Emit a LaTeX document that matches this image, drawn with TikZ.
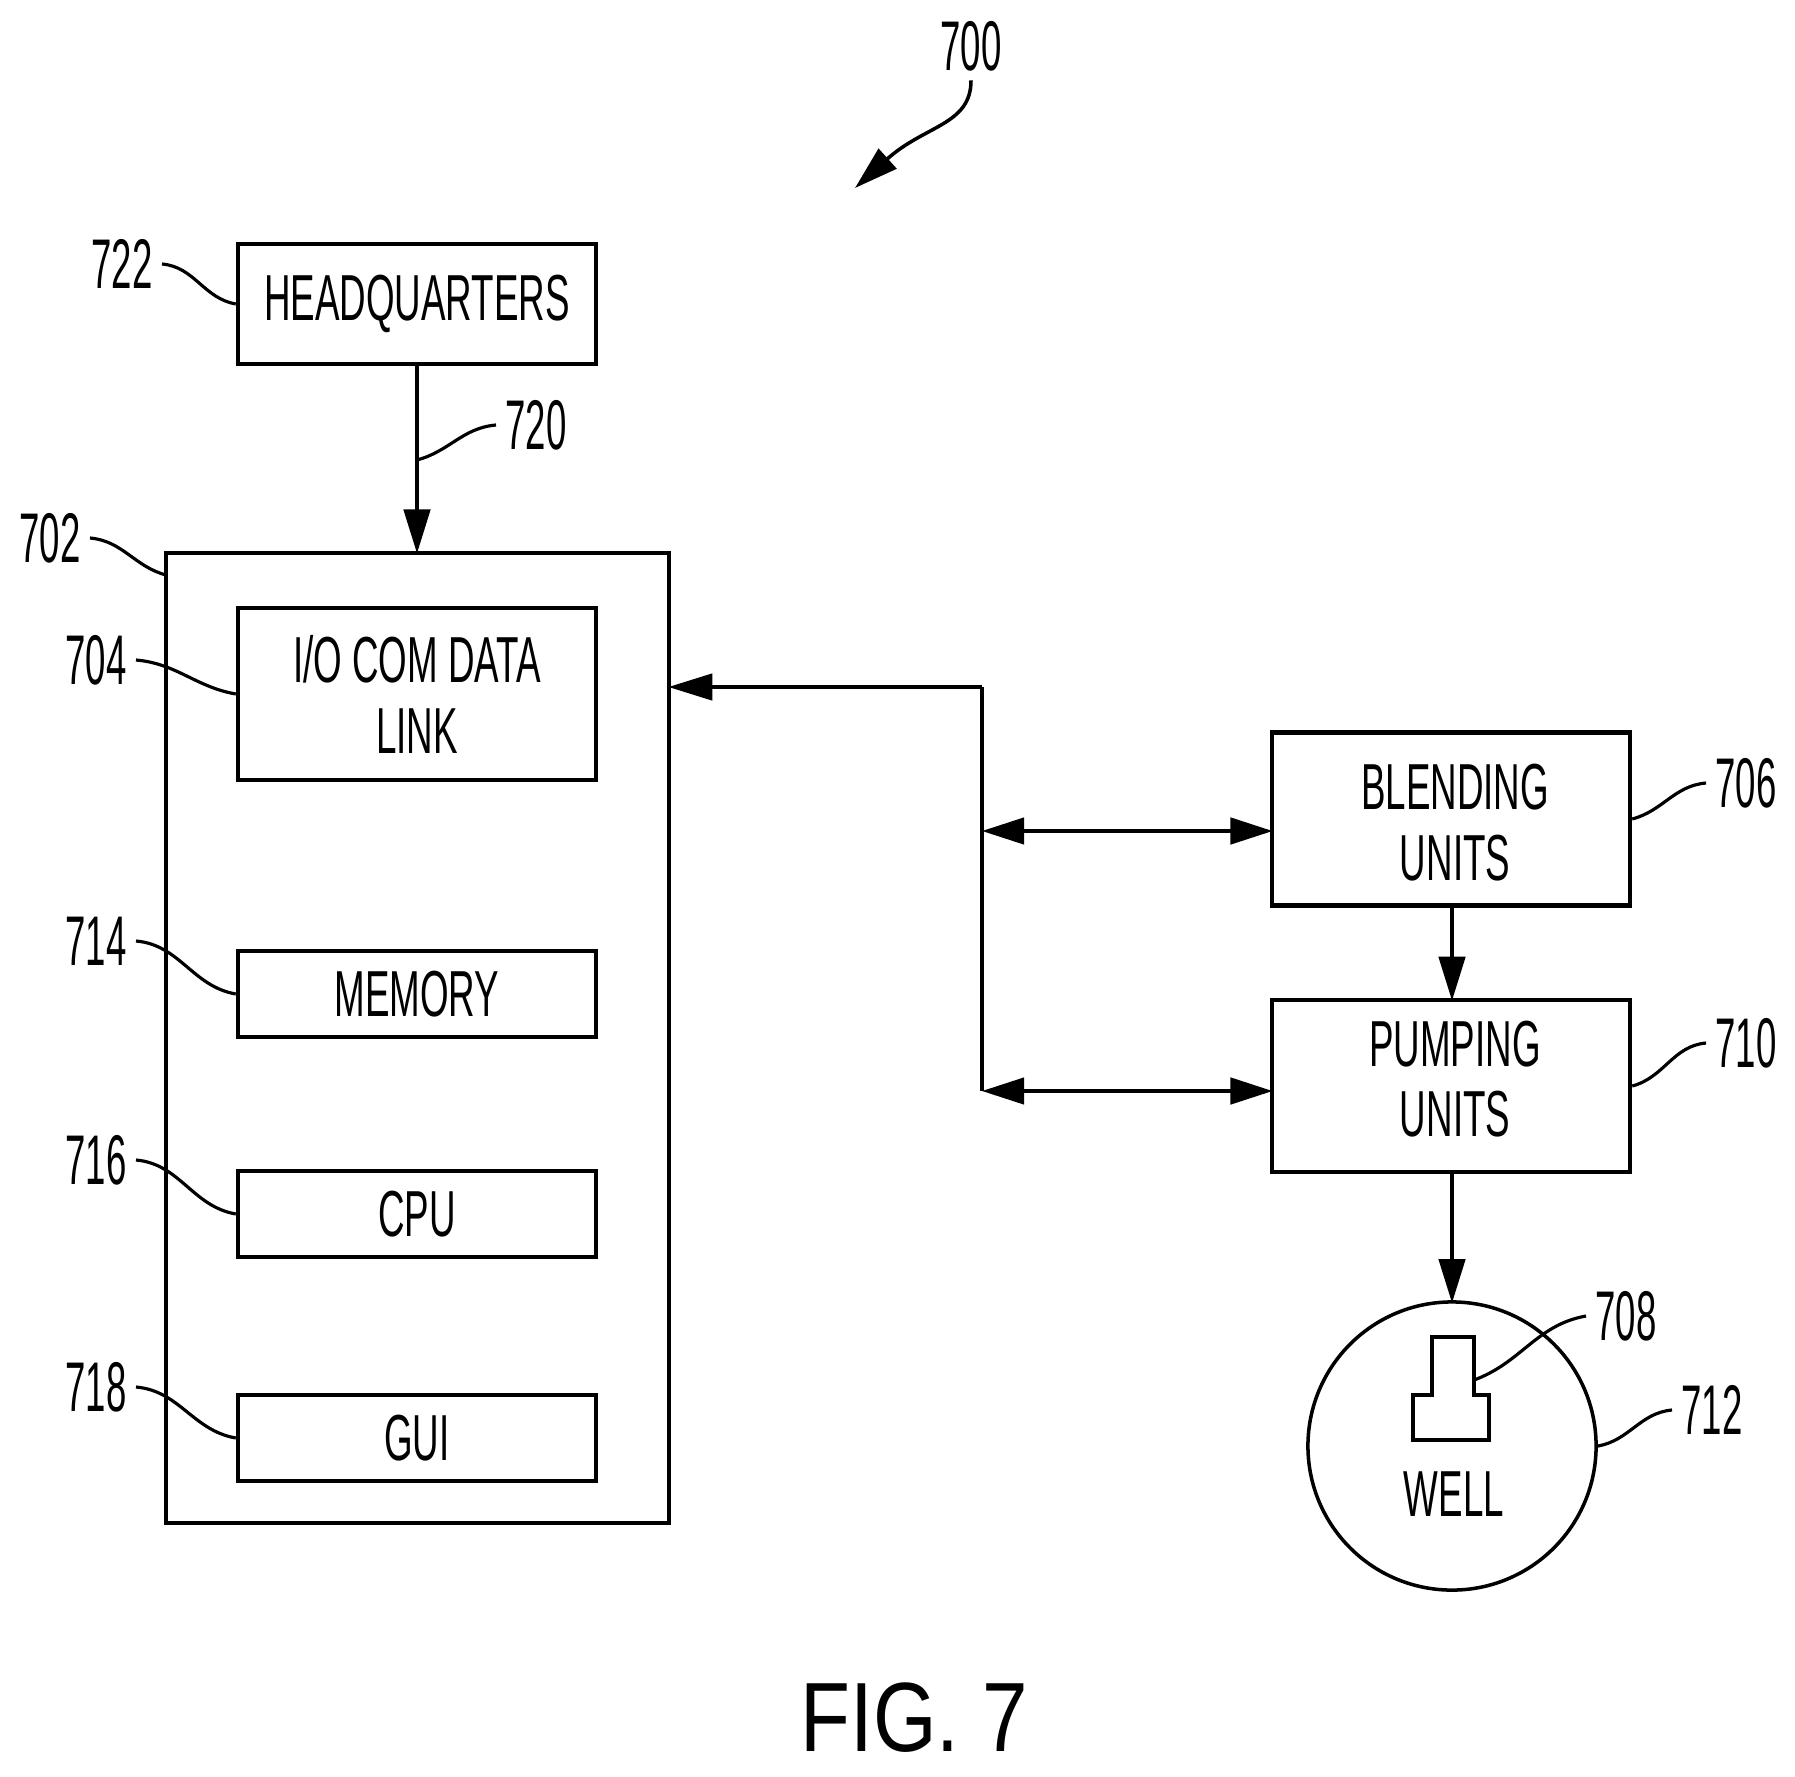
\documentclass[tikz,border=0pt]{standalone}
\usepackage{fontspec}
\usepackage{tikz}
\usetikzlibrary{positioning,arrows.meta}
\newfontfamily\boxfont[FakeStretch=0.565]{Liberation Sans}
\newfontfamily\numfont[FakeStretch=0.52]{Liberation Sans}
\newfontfamily\figfont[FakeStretch=0.83]{Liberation Sans}
\newcommand{\nudge}{\hspace*{2.3pt}}
\tikzset{
  unitbox/.style={draw,line width=1.2pt,align=center,inner sep=0pt,minimum width=3.58cm,
    font=\boxfont\fontsize{18.5}{20}\selectfont},
  refnum/.style={inner sep=2.5pt,font=\numfont\fontsize{20}{20}\selectfont},
  lead/.style={line width=0.9pt},
  link/.style={line width=1pt,shorten >=-0.8pt,-{Triangle[length=12.5pt,width=7.5pt]}},
  duplex/.style={line width=1pt,shorten >=-0.8pt,{Triangle[length=12pt,width=7.5pt]}-{Triangle[length=12pt,width=7.5pt]}}
}
\begin{document}
\begin{tikzpicture}[x=0.01cm,y=-0.01cm]
    \useasboundingbox (0,0) rectangle (1795,1776);
    %%%%% THE LEFT SIDE
    \node[unitbox,minimum height=1.2cm] (hq) at (417,304) {HEADQUARTERS};
    \node[draw,line width=1.2pt,minimum width=5.03cm,minimum height=9.7cm,inner sep=0pt] (ctrl) at (417.5,1038) {};
    \node[unitbox,minimum height=1.72cm] (iolink) at (417,694) {\rule{0pt}{13.6pt}I/O COM DATA\\LINK};
    \node[unitbox,minimum height=0.86cm] (memory) at (417,994) {MEMORY};
    \node[unitbox,minimum height=0.86cm] (cpu) at (417,1214) {CPU};
    \node[unitbox,minimum height=0.86cm] (gui) at (417,1438) {GUI};
    %%%%% THE RIGHT SIDE
    \node[unitbox,minimum height=1.73cm] (blend) at (1451,819) {\rule{0pt}{15pt}\nudge BLENDING\\\nudge UNITS};
    \node[unitbox,minimum height=1.72cm] (pump) at (1451,1086) {\nudge PUMPING\\\nudge UNITS\rule[-4pt]{0pt}{0pt}};
    \node[draw,circle,line width=1pt,minimum size=2.88cm,inner sep=0pt] (well) at (1452,1446) {};
    \node[font=\boxfont\fontsize{18.5}{20}\selectfont,inner sep=0pt] (welltext) at (1454,1494) {WELL};
    % wellhead inside the circle
    \draw[line width=1pt] (1432,1337) -- (1474,1337) -- (1474,1395) -- (1489,1395) -- (1489,1440)
      -- (1413,1440) -- (1413,1395) -- (1432,1395) -- cycle;
    \coordinate (wellhead) at (1474,1380);
    %%%%% LINKS BETWEEN THE UNITS
    \coordinate (bustop) at (982,687);
    \coordinate (busblend) at (982,831);
    \coordinate (buspump) at (982,1091);
    \draw[link] (hq.south) -- (ctrl.north -| hq.south);
    \draw[link] (bustop) -- (ctrl.east |- bustop);
    \draw[line width=1pt] (bustop) -- (buspump);
    \draw[duplex] (busblend) -- (blend.west |- busblend);
    \draw[duplex] (buspump) -- (pump.west |- buspump);
    \draw[link] (blend.south -| 1452,0) -- (pump.north -| 1452,0);
    \draw[link] (pump.south -| 1452,0) -- (well.north);
    %%%%% REFERENCE NUMBERS
    \node[refnum] (t700) at (971,46) {700};
    \node[refnum] (t702) at (50,538) {702};
    \node[refnum] (t704) at (96,660) {704};
    \node[refnum] (t706) at (1746,783) {706};
    \node[refnum] (t708) at (1626,1316) {708};
    \node[refnum] (t710) at (1746,1043) {710};
    \node[refnum] (t712) at (1712,1410) {712};
    \node[refnum] (t714) at (96,941) {714};
    \node[refnum] (t716) at (96,1160) {716};
    \node[refnum] (t718) at (96,1387) {718};
    \node[refnum] (t720) at (536,425) {720};
    \node[refnum] (t722) at (122,264) {722};
    \node[font=\figfont\fontsize{28}{28}\selectfont,inner sep=0pt] (figname) at (914,1718) {FIG. 7};
    %%%% LEADERS FROM THE NUMBERS
    \coordinate (tip700) at (855,188);
    \coordinate (arrow720) at (417,460);
    \coordinate (corner702) at (166,575);
    \draw[link,shorten >=0pt] (t700.south) .. controls (971,125) and (925,125) .. (tip700);
    \draw[lead] (t722.east) to[out=-5,in=170] (hq.west);
    \draw[lead] (t720.west) to[out=185,in=15] (arrow720);
    \draw[lead] (t702.east) to[out=-5,in=165] (corner702);
    \draw[lead] (t704.east) to[out=-5,in=170] (iolink.west);
    \draw[lead] (t714.east) to[out=-5,in=170] (memory.west);
    \draw[lead] (t716.east) to[out=-5,in=170] (cpu.west);
    \draw[lead] (t718.east) to[out=-5,in=170] (gui.west);
    \draw[lead] (t706.west) to[out=185,in=15] (blend.east);
    \draw[lead] (t710.west) to[out=185,in=15] (pump.east);
    \draw[lead] (t712.west) to[out=185,in=10] (well.east);
    \draw[lead] (t708.west) to[out=190,in=20] (wellhead);
  \end{tikzpicture}
\end{document}
